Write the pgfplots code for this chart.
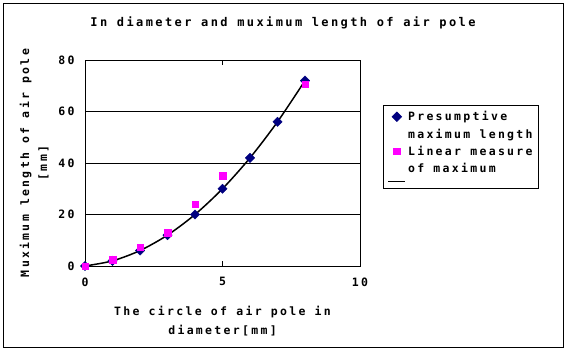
\documentclass[border=0pt]{standalone}
\usepackage{pgfplots}
\pgfplotsset{compat=1.18}
\usepackage{fontspec}
\setmainfont{DejaVu Sans Mono}
\newfontfamily\bmono{DejaVu Sans Mono Bold}[LetterSpace=20]
\definecolor{navyc}{HTML}{000080}
\definecolor{magc}{HTML}{FF00FF}
\begin{document}
\begin{tikzpicture}
\useasboundingbox (0,0) rectangle (567pt,353pt);
\fill[white] (0,0) rectangle (567pt,353pt);
\draw[black, line width=1pt] (3.5pt,5.5pt) rectangle (563pt,349.5pt);
\begin{axis}[
  at={(85pt,87pt)}, anchor=south west,
  scale only axis, width=275pt, height=206pt,
  xmin=0, xmax=10, ymin=0, ymax=80,
  xtick={0,5,10}, ytick={0,20,40,60,80},
  ymajorgrids, major grid style={black, line width=0.8pt},
  axis line style={black, line width=0.8pt},
  tick style={black, line width=0.8pt},
  major tick length=5pt,
  ytick style={draw=none},
  /pgf/number format/assume math mode=true,
  tick label style={font=\fontsize{11.5}{14}\selectfont\bmono},
  xticklabel style={yshift=-8pt},
  yticklabel style={xshift=-7pt},
  title={In diameter and muximum length of air pole},
  title style={at={(rel axis cs:0.72,1.15)}, anchor=center, font=\fontsize{12}{14}\selectfont\bmono},
  xlabel={The circle of air pole in\\diameter[mm]},
  xlabel style={at={(rel axis cs:0.5,-0.267)}, anchor=center, align=center, font=\fontsize{11.5}{19}\selectfont\bmono},
  ylabel={Muximum length of air pole\\\relax[mm]},
  ylabel style={at={(rel axis cs:-0.185,0.5)}, anchor=center, align=center, font=\fontsize{11.5}{18}\selectfont\bmono},
  legend style={at={(1.084,0.782)}, anchor=north west, draw=black, line width=0.8pt,
    font=\fontsize{11.5}{14}\selectfont\bmono, cells={anchor=west},
    inner sep=4pt, row sep=2.5pt},
]
\addplot[only marks, mark=square*, mark size=3.3pt, mark options={rotate=45}, color=navyc, fill=navyc] coordinates {
(0,0) (1,2) (2,6) (3,12) (4,20) (5,30) (6,42) (7,56) (8,72)};
\addlegendentry{Presumptive}
\addlegendimage{empty legend}
\addlegendentry{maximum length}
\addplot[only marks, mark=square*, mark size=3.2pt, color=magc, fill=magc] coordinates {
(0,0) (1,2.5) (2,7.4) (3,13) (4,24) (5,35) (8,70.5)};
\addlegendentry{Linear measure}
\addlegendimage{empty legend}
\addlegendentry{of maximum}
\addplot[black, line width=1.5pt, smooth, no marks] coordinates {
(0,0) (1,2) (2,6) (3,12) (4,20) (5,30) (6,42) (7,56) (8,72)};
\addlegendentry{}
\end{axis}
\end{tikzpicture}
\end{document}
